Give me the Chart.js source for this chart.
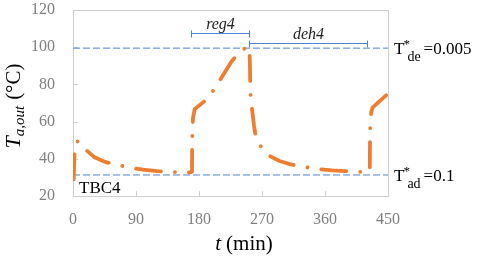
<!DOCTYPE html>
<html>
<head>
<meta charset="utf-8">
<script src="https://cdn.jsdelivr.net/npm/chart.js@4.4.0/dist/chart.umd.min.js"></script>
<style>
  html, body { margin: 0; padding: 0; background: #fff; }
  #wrap { width: 480px; height: 257px; }
</style>
</head>
<body>
<div id="wrap"><canvas id="tbc-chart" width="480" height="257"></canvas></div>
<script>
// Outlet air temperature of TBC4 over one cycle
const timeMin = [1, 1.5, 2.5, 5, 9, 14, 20, 30, 46, 64, 84, 100, 120, 141, 160, 167,
    170, 170.2, 170.6, 171.4, 174, 190, 200, 209, 226, 237, 246, 252,
    252.8, 253.2, 254, 256, 258.5, 261, 265, 269, 275, 281, 295, 311, 330, 350, 370, 389, 409, 421,
    423.6, 424, 424.3, 424.6, 426, 428, 438, 450];
const tempOut = [29, 36, 45, 49.3, 49.3, 47, 44.3, 41, 38.3, 36.7, 35, 34.2, 33.4, 32.9, 32.8, 32.7,
    33, 46, 55, 62, 66.8, 71.6, 76.5, 81.8, 92, 97, 99.5, 100,
    90, 80, 72, 66, 58, 52, 48.5, 46.3, 43.5, 41.5, 38.8, 37, 35.6, 34.5, 33.8, 33.4, 33, 32.8,
    33, 35, 51, 59, 65, 67.5, 71, 75];

// Axis ticks
const xTicks = [0, 90, 180, 270, 360, 450];
const yTicks = [20, 40, 60, 80, 100, 120];

// Threshold temperatures (dashed lines) and their labels
const thresholdTemps = [99.5, 31.3];
const thresholdMain = ['T', 'T'];
const thresholdSub = ['de', 'ad'];
const thresholdValue = ['=0.005', '=0.1'];

// Phase brackets above the curve
const phaseNames = ['reg4', 'deh4'];
const phaseStart = [168, 252];
const phaseEnd = [252, 420];

const SERIF = '"Liberation Serif", "Times New Roman", serif';
const ORANGE = '#ED7D31';
const BLUE = '#4f82d2';
const FRAME = '#cfcfcf';

// Draw a list of text runs one after another
function drawRuns(ctx, x, y, runs) {
    runs.forEach(run => {
        ctx.font = run.font;
        ctx.fillText(run.text, x, y + (run.dy || 0));
        x += ctx.measureText(run.text).width + (run.gap || 0);
    });
}

function runsWidth(ctx, runs) {
    let w = 0;
    runs.forEach(run => {
        ctx.font = run.font;
        w += ctx.measureText(run.text).width + (run.gap || 0);
    });
    return w;
}

// Frame, inner tick marks, brackets and all the labels
const decorPlugin = {
    id: 'decor',
    beforeDatasetsDraw(chart) {
        const ctx = chart.ctx;
        const a = chart.chartArea;
        const xs = chart.scales.x;
        const ys = chart.scales.y;
        ctx.save();
        ctx.strokeStyle = FRAME;
        ctx.lineWidth = 1;
        ctx.strokeRect(Math.round(a.left) + 0.5, Math.round(a.top) + 0.5,
            Math.round(a.right - a.left), Math.round(a.bottom - a.top));
        ctx.beginPath();
        xTicks.slice(1, -1).forEach(v => {
            const px = Math.round(xs.getPixelForValue(v)) + 0.5;
            ctx.moveTo(px, a.bottom);
            ctx.lineTo(px, a.bottom - 5);
        });
        yTicks.slice(1, -1).forEach(v => {
            const py = Math.round(ys.getPixelForValue(v)) + 0.5;
            ctx.moveTo(a.left, py);
            ctx.lineTo(a.left + 5, py);
        });
        ctx.stroke();
        ctx.restore();
    },
    afterDraw(chart) {
        const ctx = chart.ctx;
        const a = chart.chartArea;
        const xs = chart.scales.x;
        const ys = chart.scales.y;
        ctx.save();

        // phase brackets
        const levels = [107.6, 102.3];
        phaseNames.forEach((name, i) => {
            const x1 = Math.round(xs.getPixelForValue(phaseStart[i])) + 0.5;
            const x2 = Math.round(xs.getPixelForValue(phaseEnd[i])) + 0.5;
            const py = Math.round(ys.getPixelForValue(levels[i])) + 0.5;
            ctx.strokeStyle = BLUE;
            ctx.lineWidth = 1;
            ctx.beginPath();
            ctx.moveTo(x1, py); ctx.lineTo(x2, py);
            ctx.moveTo(x1, py - 3); ctx.lineTo(x1, py + 4);
            ctx.moveTo(x2, py - 3); ctx.lineTo(x2, py + 4);
            ctx.stroke();
            ctx.fillStyle = '#222';
            ctx.font = 'italic 16px ' + SERIF;
            ctx.textAlign = 'center';
            ctx.textBaseline = 'alphabetic';
            ctx.fillText(name, (x1 + x2) / 2, py - 5);
        });

        // threshold labels on the right
        ctx.textAlign = 'left';
        ctx.fillStyle = '#000';
        thresholdTemps.forEach((t, i) => {
            const base = ys.getPixelForValue(t) + 6;
            const x0 = a.right + 6;
            ctx.font = '17px ' + SERIF;
            ctx.fillText(thresholdMain[i], x0, base);
            const tw = ctx.measureText(thresholdMain[i]).width;
            ctx.font = '13px ' + SERIF;
            ctx.fillText('*', x0 + tw - 1, base - 6);
            ctx.font = '14px ' + SERIF;
            ctx.fillText(thresholdSub[i], x0 + tw + 3, base + 7);
            const sw = ctx.measureText(thresholdSub[i]).width;
            ctx.font = '17px ' + SERIF;
            ctx.fillText(thresholdValue[i], x0 + tw + sw + 6, base);
        });

        // case label inside the plot
        ctx.font = '17px ' + SERIF;
        ctx.fillText('TBC4', a.left + 6, a.bottom - 3);

        // x axis title
        const xRuns = [
            { text: 't', font: 'italic 21px ' + SERIF, gap: 5 },
            { text: '(min)', font: '21px ' + SERIF }
        ];
        const xw = runsWidth(ctx, xRuns);
        drawRuns(ctx, 244 - xw / 2, 250, xRuns);

        // y axis title, rotated
        const yRuns = [
            { text: 'T', font: 'italic 22px ' + SERIF },
            { text: 'a,out', font: 'italic 15px ' + SERIF, dy: 4, gap: 6 },
            { text: '(\u00B0C)', font: '21px ' + SERIF }
        ];
        const yw = runsWidth(ctx, yRuns);
        ctx.translate(20, 106);
        ctx.rotate(-Math.PI / 2);
        drawRuns(ctx, -yw / 2, 0, yRuns);

        ctx.restore();
    }
};

function initChart() {
    const ctx = document.getElementById('tbc-chart').getContext('2d');

    const curve = timeMin.map((t, i) => ({ x: t, y: tempOut[i] }));
    const thresholdSets = thresholdTemps.map(t => ({
        data: [{ x: xTicks[0], y: t }, { x: xTicks[xTicks.length - 1], y: t }],
        borderColor: BLUE,
        borderWidth: 1,
        borderDash: [7, 3],
        pointRadius: 0
    }));

    new Chart(ctx, {
        type: 'line',
        data: {
            datasets: [{
                data: curve,
                borderColor: ORANGE,
                borderWidth: 3.8,
                borderDash: [25, 14, 0.01, 14],
                borderCapStyle: 'round',
                borderJoinStyle: 'round',
                pointRadius: 0,
                tension: 0
            }].concat(thresholdSets)
        },
        plugins: [decorPlugin],
        options: {
            responsive: false,
            animation: false,
            layout: { padding: { top: 10, right: 92, left: 0, bottom: 0 } },
            plugins: {
                legend: { display: false },
                tooltip: { enabled: false }
            },
            scales: {
                x: {
                    type: 'linear',
                    min: xTicks[0],
                    max: xTicks[xTicks.length - 1],
                    afterBuildTicks: s => { s.ticks = xTicks.map(v => ({ value: v })); },
                    afterFit: s => { s.height = 61; },
                    grid: { display: false, drawTicks: false },
                    border: { display: false },
                    ticks: {
                        padding: 14,
                        color: '#7f7f7f',
                        font: { family: SERIF, size: 16 },
                        maxRotation: 0
                    }
                },
                y: {
                    min: yTicks[0],
                    max: yTicks[yTicks.length - 1],
                    afterBuildTicks: s => { s.ticks = yTicks.map(v => ({ value: v })); },
                    afterFit: s => { s.width = 73; s.paddingTop = 0; s.paddingBottom = 0; },
                    grid: { display: false, drawTicks: false },
                    border: { display: false },
                    ticks: {
                        padding: 18,
                        color: '#7f7f7f',
                        font: { family: SERIF, size: 16 }
                    }
                }
            }
        }
    });
}

document.addEventListener('DOMContentLoaded', function() {
    initChart();
});
</script>
</body>
</html>
